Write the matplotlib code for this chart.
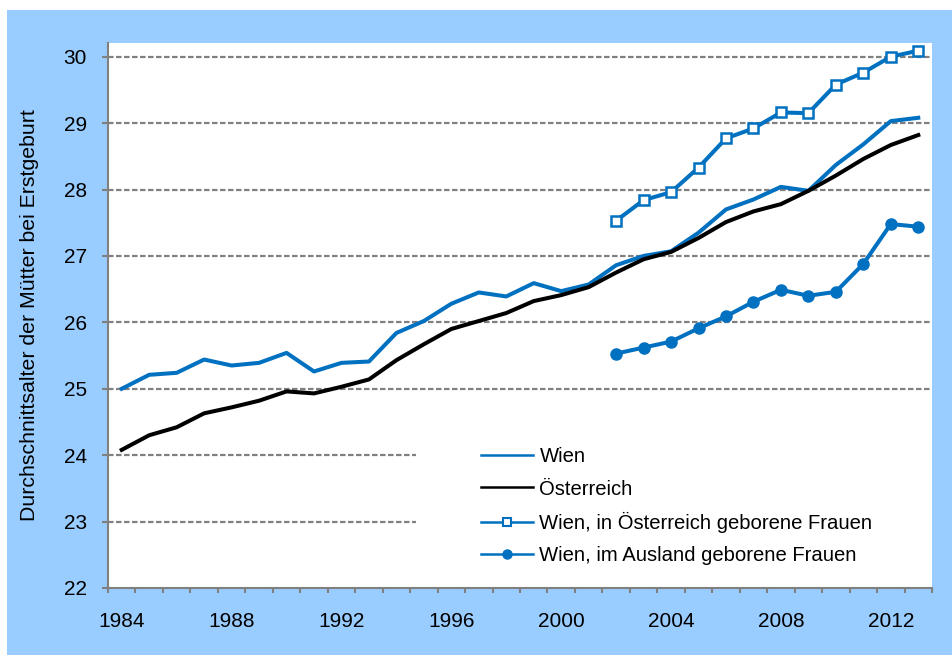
import numpy as np
import matplotlib
matplotlib.use("Agg")
import matplotlib.pyplot as plt
from matplotlib.patches import Rectangle
from matplotlib.lines import Line2D

plt.rcParams['font.family'] = ['Liberation Sans', 'DejaVu Sans']

# Daten
years = list(range(1984, 2014))
wien = [25.00, 25.21, 25.24, 25.44, 25.35, 25.39, 25.54, 25.26, 25.39, 25.41,
        25.84, 26.02, 26.28, 26.45, 26.39, 26.59, 26.47, 26.57, 26.86, 27.00,
        27.07, 27.35, 27.70, 27.85, 28.04, 27.98, 28.37, 28.68, 29.03, 29.08]
oesterreich = [24.08, 24.30, 24.42, 24.63, 24.72, 24.82, 24.96, 24.93, 25.03, 25.14,
               25.43, 25.67, 25.90, 26.02, 26.14, 26.32, 26.41, 26.53, 26.75, 26.95,
               27.06, 27.27, 27.51, 27.67, 27.78, 27.98, 28.21, 28.46, 28.67, 28.82]
years_sub = list(range(2002, 2014))
wien_inland = [27.53, 27.84, 27.96, 28.33, 28.77, 28.92, 29.16, 29.15, 29.58, 29.76, 30.00, 30.09]
wien_ausland = [25.53, 25.62, 25.71, 25.91, 26.09, 26.31, 26.49, 26.40, 26.46, 26.88, 27.48, 27.44]

labels = ["Wien", "Österreich", "Wien, in Österreich geborene Frauen",
          "Wien, im Ausland geborene Frauen"]
label_years = years[::4]

blau = '#0070C0'
grau = '#808080'

fig = plt.figure(figsize=(9.52, 6.55), dpi=100, facecolor='white')
# hellblauer Hintergrund
bg = Rectangle((7 / 952, 0), 1, 1 - 10 / 655, transform=fig.transFigure,
               facecolor='#99CCFF', edgecolor='none')
bg.set_zorder(-10)
fig.add_artist(bg)

ax = fig.add_axes([108 / 952, 1 - 588 / 655, 824 / 952, 545 / 655])
ax.set_facecolor('white')

ax.plot(years, wien, color=blau, lw=2.9, solid_joinstyle='round', zorder=3)
ax.plot(years, oesterreich, color='black', lw=2.9, solid_joinstyle='round', zorder=3)
ax.plot(years_sub, wien_inland, color=blau, lw=2.9, marker='s', ms=7.5,
        mfc='white', mec=blau, mew=1.8, zorder=4)
ax.plot(years_sub, wien_ausland, color=blau, lw=2.9, marker='o', ms=8,
        mfc=blau, mec=blau, zorder=4)

ax.set_xlim(years[0] - 0.5, years[-1] + 0.5)
ax.set_ylim(22, 30.206)

# Achsen
for s in ['top', 'right']:
    ax.spines[s].set_visible(False)
for s in ['left', 'bottom']:
    ax.spines[s].set_color(grau)
    ax.spines[s].set_linewidth(1.5)

ax.set_yticks(range(22, 31))
ax.tick_params(axis='y', length=4.3, width=1.5, color=grau, pad=11,
               labelsize=15, labelcolor='black')
ax.set_xticks(np.arange(years[0] - 0.5, years[-1] + 1, 1))
ax.set_xticklabels([])
ax.tick_params(axis='x', which='major', length=3.6, width=1.5, color=grau)
ax.set_xticks(label_years, minor=True)
ax.set_xticklabels([str(y) for y in label_years], minor=True)
ax.tick_params(axis='x', which='minor', length=0, pad=17, labelsize=15)

for v in range(23, 31):
    ax.axhline(v, color=grau, lw=1.6, dashes=(2.5, 1.1), zorder=1.5)

ax.set_ylabel('Durchschnittsalter der Mütter bei Erstgeburt', fontsize=15.3)
ax.yaxis.set_label_coords(-0.0837, 0.5)

# Legende mit weißem Hintergrund
ax.add_patch(Rectangle((0.374, 0.015), 0.626, 0.285, transform=ax.transAxes,
                       facecolor='white', edgecolor='none', zorder=1.8))
handles = [
    Line2D([], [], color=blau, lw=1.8),
    Line2D([], [], color='black', lw=1.8),
    Line2D([], [], color=blau, lw=1.8, marker='s', ms=6, mfc='white', mec=blau, mew=1.5),
    Line2D([], [], color=blau, lw=1.8, marker='o', ms=6.5, mfc=blau, mec=blau),
]
leg = ax.legend(handles, labels, loc='upper left', bbox_to_anchor=(0.4527, 0.258),
                frameon=False, fontsize=14.6, borderpad=0, borderaxespad=0,
                handlelength=2.55, handletextpad=0.33, labelspacing=0.65)
leg.set_zorder(5)

fig.savefig('out.png', dpi=100, facecolor=fig.get_facecolor())
